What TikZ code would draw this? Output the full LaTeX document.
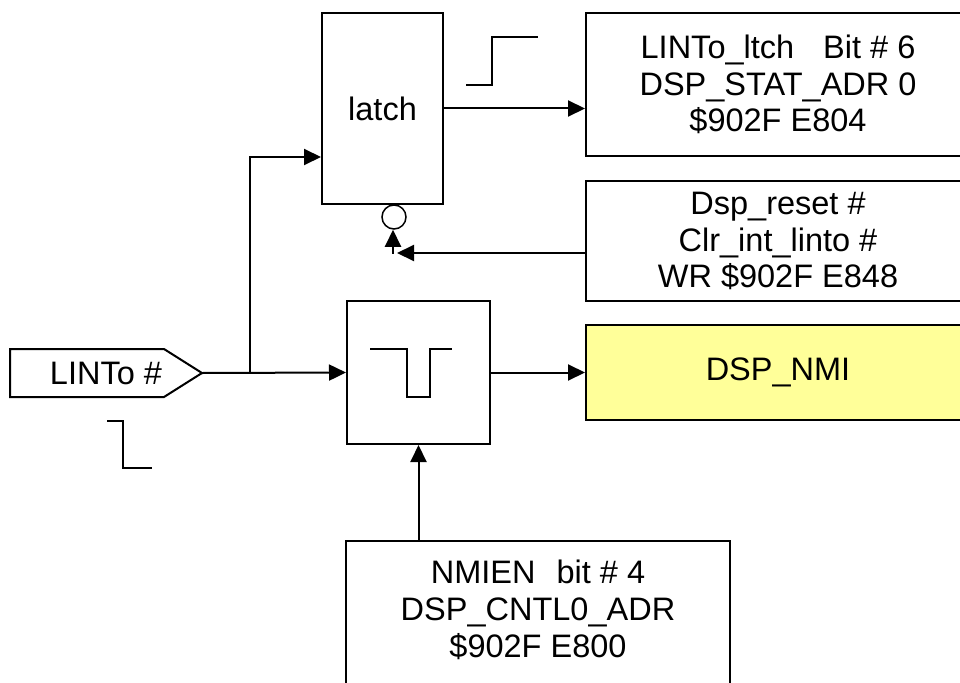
\documentclass[tikz,border=0pt]{standalone}
\usepackage{fontspec}
\setmainfont{Liberation Sans}
\usetikzlibrary{arrows.meta}
\definecolor{nmiyellow}{RGB}{255,255,153}
\begin{document}
\begin{tikzpicture}[x=1pt,y=-1pt,
  line width=2pt,
  arr/.style={-{Triangle[length=17pt,width=16pt]}},
  txt/.style={inner sep=0pt, align=center, font=\fontsize{32.5}{36.7}\selectfont},
  box/.style={draw, txt},
  wave/.style={line width=2pt}]
\useasboundingbox (0,0) rectangle (960,682);
\clip (0,0) rectangle (960,682);

% blocks
\node[box, minimum width=121pt, minimum height=191pt] (latch) at (382.5,108.5) {latch};
\node[draw, circle, minimum size=24pt, inner sep=0pt, line width=1.5pt] (bub) at (394,217) {};
\node[box, minimum width=384pt, minimum height=143pt] (stat) at (778,84.5)
  {LINTo\_ltch\hspace{29pt}Bit \# 6\\DSP\_STAT\_ADR 0\\\$902F E804};
\node[box, minimum width=384pt, minimum height=120pt] (rst) at (778,241)
  {Dsp\_reset \#\\Clr\_int\_linto \#\\WR \$902F E848};
\node[box, fill=nmiyellow, minimum width=384pt, minimum height=95pt] (nmi) at (778,372.5) {DSP\_NMI};
\node[box, minimum width=143pt, minimum height=143pt] (pulse) at (418.5,372.5) {};
\node[box, minimum width=384pt, minimum height=160pt] (nmien) at (538,621) {};
\node[txt] (nmientxt) at (538,610) {NMIEN\hspace{21pt}bit \# 4\\DSP\_CNTL0\_ADR\\\$902F E800};

% LINTo input tag
\draw (10,349) -- (164,349) -- (202,373) -- (164,397) -- (10,397) -- cycle;
\node[txt] (lint) at (106,373) {LINTo \#};
\coordinate (linttip) at (202,373);
\coordinate (jn) at (250,373);

% connectors
\draw[arr] (linttip) -- (pulse.west);
\draw[arr] (jn) |- ([yshift=-48.5pt]latch.west);
\draw[arr] (latch.east) -- (latch.east -| stat.west);
\draw[arr] (pulse.east) -- (nmi.west);
\draw[arr] (pulse.south |- nmien.north) -- (pulse.south);
\draw[arr] ([yshift=-12pt]rst.west) -- ([yshift=-12pt,xshift=3pt]rst.west -| bub.south);
\draw[arr] ([yshift=-24pt,xshift=-1pt]bub.south) -- ([xshift=-1pt]bub.south);

% waveforms
\draw[wave] (466,85) -- (492,85) -- (492,37) -- (538,37);
\draw[wave] (370,349) -- (407,349) -- (407,397) -- (430,397) -- (430,349) -- (452,349);
\draw[wave] (107,421) -- (123,421) -- (123,468) -- (152,468);
\end{tikzpicture}
\end{document}
